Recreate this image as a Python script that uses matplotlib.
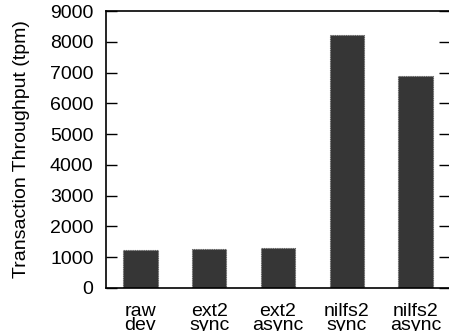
import matplotlib
matplotlib.use("Agg")
from matplotlib import pyplot as plt

categories = ["raw\ndev", "ext2\nsync", "ext2\nasync", "nilfs2\nsync", "nilfs2\nasync"]
throughput = [1250, 1280, 1310, 8220, 6890]
yticks = [0, 1000, 2000, 3000, 4000, 5000, 6000, 7000, 8000, 9000]

plt.rcParams['font.family'] = ['Liberation Sans', 'DejaVu Sans']

fig = plt.figure(figsize=(4.49, 3.31), dpi=100)
# axes right edge sits just past the image border, like the original crop
ax = fig.add_axes([106 / 449, 43 / 331, 344 / 449, 277 / 331])

pos = list(range(1, len(categories) + 1))
ax.bar(pos, throughput, width=0.5, color='#363636', edgecolor='#606060',
       linewidth=0.8, linestyle=(0, (1, 1)))

ax.set_xlim(0.5, 5.5)
ax.set_ylim(0, 9000)
ax.set_yticks(yticks)
ax.set_xticks(pos)
ax.set_xticklabels(categories, fontsize=14, linespacing=0.78)
ax.tick_params(axis='y', direction='in', length=8, width=1, labelsize=14,
               pad=9, right=True)
ax.tick_params(axis='x', length=0, pad=11)
ax.set_ylabel('Transaction Throughput (tpm)', fontsize=14, labelpad=14)

for s in ax.spines.values():
    s.set_linewidth(1.2)

fig.savefig('out.png', dpi=100)
